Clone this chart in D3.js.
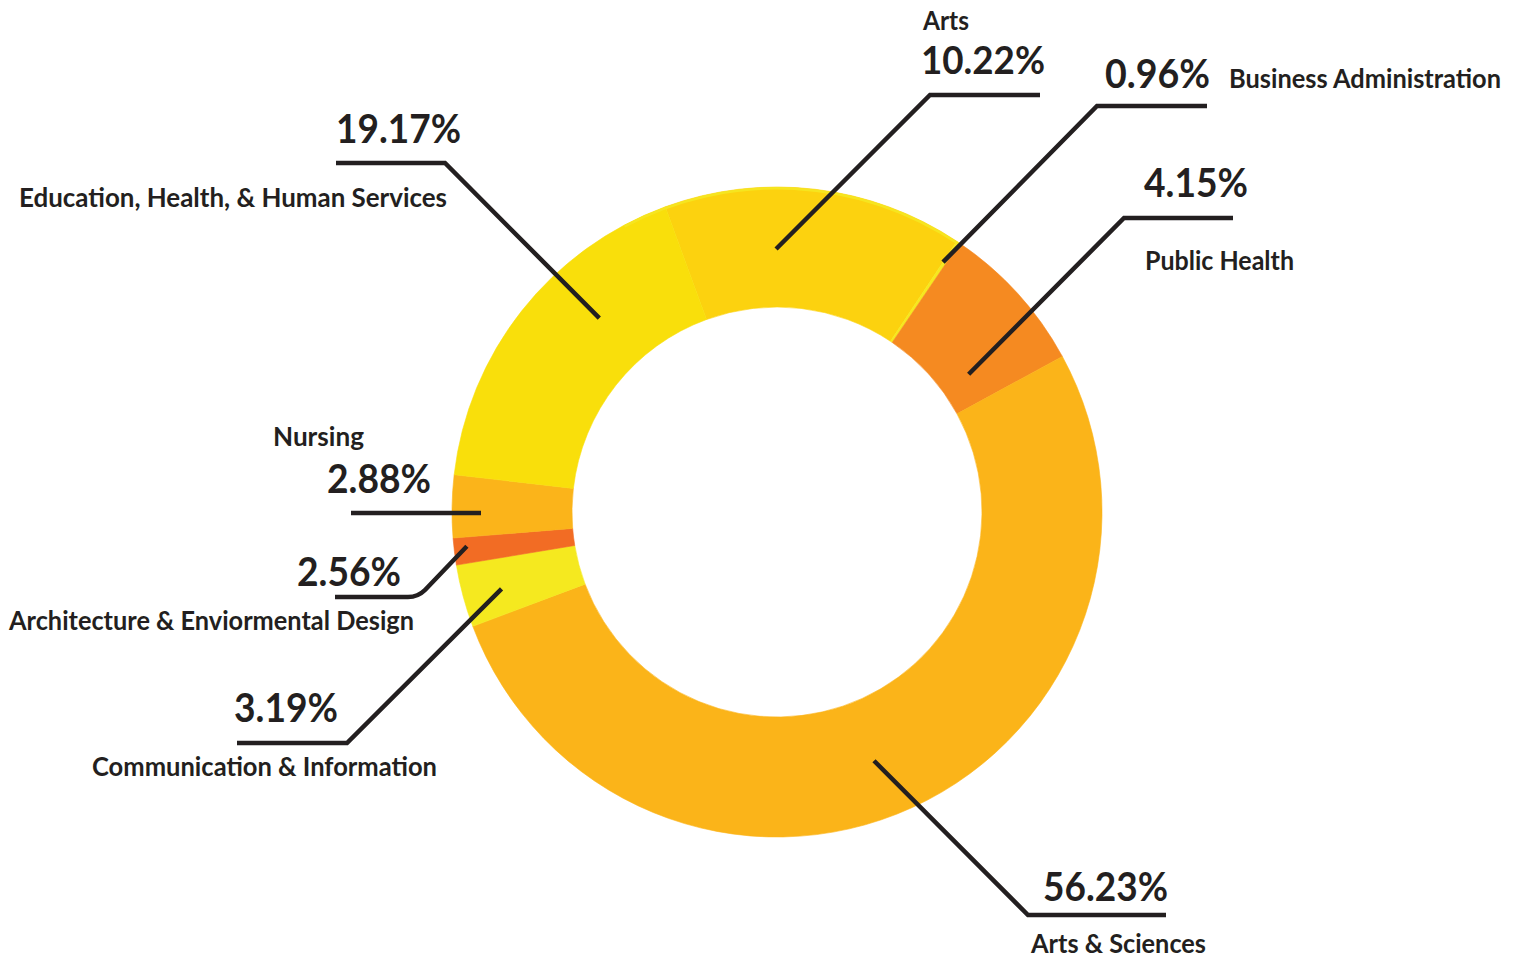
<!DOCTYPE html>
<html>
<head>
<meta charset="utf-8">
<script src="https://cdn.jsdelivr.net/npm/d3@7"></script>
<style>
  html, body { margin: 0; padding: 0; background: #ffffff; }
  svg { display: block; }
  .pct { font-family: Lato, "Open Sans", sans-serif; font-weight: 700; fill: #231F20; }
  .lbl { font-family: Lato, "Open Sans", sans-serif; font-weight: 700; fill: #231F20; }
</style>
</head>
<body>
<svg id="chart" width="1517" height="959"></svg>
<script>
// ---- data ----
const categories = ["Arts", "Business Administration", "Public Health", "Arts & Sciences",
  "Communication & Information", "Architecture & Enviormental Design", "Nursing",
  "Education, Health, & Human Services"];
const percentLabels = ["10.22%", "0.96%", "4.15%", "56.23%", "3.19%", "2.56%", "2.88%", "19.17%"];
// drawn arc sizes as they appear in the picture (degrees of the ring)
const arcDegrees = [53.7, 0.6, 27.2, 188.0, 11.2, 4.8, 11.2, 63.3];
const sliceColors = ["#FCD20F", "#F6E81F", "#F58A21", "#FBB419", "#F5E91F", "#F26C24", "#FBB41A", "#F9DF0B"];

// ---- layout ----
const cx = 777, cy = 512, rOuter = 325, rInner = 205;
const startDeg = -20.1;
const rad = d => d * Math.PI / 180;

// label layout: leader anchor (angle, radius), elbow, end, text positions
const labelLayout = [
  { a: -0.2, r: 263, elbow: [930, 95], end: [1040, 95],
    pct: { x: 921, y: 74, w: 124, fs: 39 }, lbl: { x: 923, y: 30, w: 46 } },
  { a: 33.6, r: 300, elbow: [1097, 106], end: [1207, 106],
    pct: { x: 1105, y: 88, w: 105 }, lbl: { x: 1229, y: 88, w: 272 } },
  { a: 54.3, r: 236, elbow: [1124, 218], end: [1233, 218],
    pct: { x: 1144, y: 197, w: 104 }, lbl: { x: 1145, y: 270, w: 149 } },
  { a: 158.7, r: 267, elbow: [1028, 915], end: [1166, 915],
    pct: { x: 1043, y: 901, w: 125 }, lbl: { x: 1031, y: 953, w: 175 } },
  { a: 254.4, r: 286, elbow: [347, 743], end: [237, 743],
    pct: { x: 234, y: 722, w: 104 }, lbl: { x: 92, y: 776, w: 345 } },
  { a: 263.7, r: 312, elbow: [418, 597], end: [335, 597], round: true,
    pct: { x: 297, y: 586, w: 104 }, lbl: { x: 9, y: 630, w: 405 } },
  { a: 269.8, r: 296, elbow: null, end: [351, 513],
    pct: { x: 327, y: 493, w: 104 }, lbl: { x: 273, y: 446, w: 91 } },
  { a: 317.5, r: 263, elbow: [445, 163], end: [336, 163],
    pct: { x: 336, y: 143, w: 125 }, lbl: { x: 19, y: 207, w: 428 } }
];

const data = categories.map((c, i) => ({ name: c, pct: percentLabels[i], share: arcDegrees[i], color: sliceColors[i], layout: labelLayout[i] }));

const svg = d3.select("#chart");
const g = svg.append("g").attr("transform", `translate(${cx},${cy})`);

const pie = d3.pie().sort(null).value(d => d.share)
  .startAngle(rad(startDeg)).endAngle(rad(startDeg + 360));
const arcs = pie(data);
const arc = d3.arc().innerRadius(rInner).outerRadius(rOuter);

g.selectAll("path.slice").data(arcs).join("path")
  .attr("class", "slice")
  .attr("d", arc)
  .attr("fill", d => d.data.color)
  .attr("stroke", d => d.data.color)
  .attr("stroke-width", 0.6);

// thin bright rim along the outer edge of the top slice
const rim = d3.arc().innerRadius(rOuter - 2.5).outerRadius(rOuter);
g.append("path")
  .attr("d", rim({ startAngle: arcs[0].startAngle - rad(8), endAngle: arcs[1].endAngle }))
  .attr("fill", "#F6E51F");

// ---- leader lines ----
const polar = (a, r) => [cx + r * Math.sin(rad(a)), cy - r * Math.cos(rad(a))];
const lines = svg.append("g");
data.forEach(d => {
  const L = d.layout;
  const s = polar(L.a, L.r);
  let pathStr;
  if (!L.elbow) {
    pathStr = `M${s[0]},${L.end[1]}L${L.end[0]},${L.end[1]}`;
  } else if (L.round) {
    const p = d3.path();
    p.moveTo(s[0], s[1]);
    p.lineTo(L.elbow[0] + 7, L.elbow[1] - 7);
    p.quadraticCurveTo(L.elbow[0], L.elbow[1], L.elbow[0] - 10, L.elbow[1]);
    p.lineTo(L.end[0], L.end[1]);
    pathStr = p.toString();
  } else {
    pathStr = d3.line()([s, L.elbow, L.end]);
  }
  lines.append("path").attr("d", pathStr)
    .attr("fill", "none").attr("stroke", "#231F20")
    .attr("stroke-width", 4.5).attr("stroke-linejoin", "miter");
});

// ---- texts ----
const texts = svg.append("g");
data.forEach(d => {
  const L = d.layout;
  texts.append("text").attr("class", "pct")
    .attr("x", L.pct.x).attr("y", L.pct.y)
    .attr("font-size", L.pct.fs || 40)
    .attr("textLength", L.pct.w).attr("lengthAdjust", "spacingAndGlyphs")
    .text(d.pct);
  texts.append("text").attr("class", "lbl")
    .attr("x", L.lbl.x).attr("y", L.lbl.y)
    .attr("font-size", 26)
    .attr("textLength", L.lbl.w).attr("lengthAdjust", "spacingAndGlyphs")
    .text(d.name);
});
</script>
</body>
</html>
